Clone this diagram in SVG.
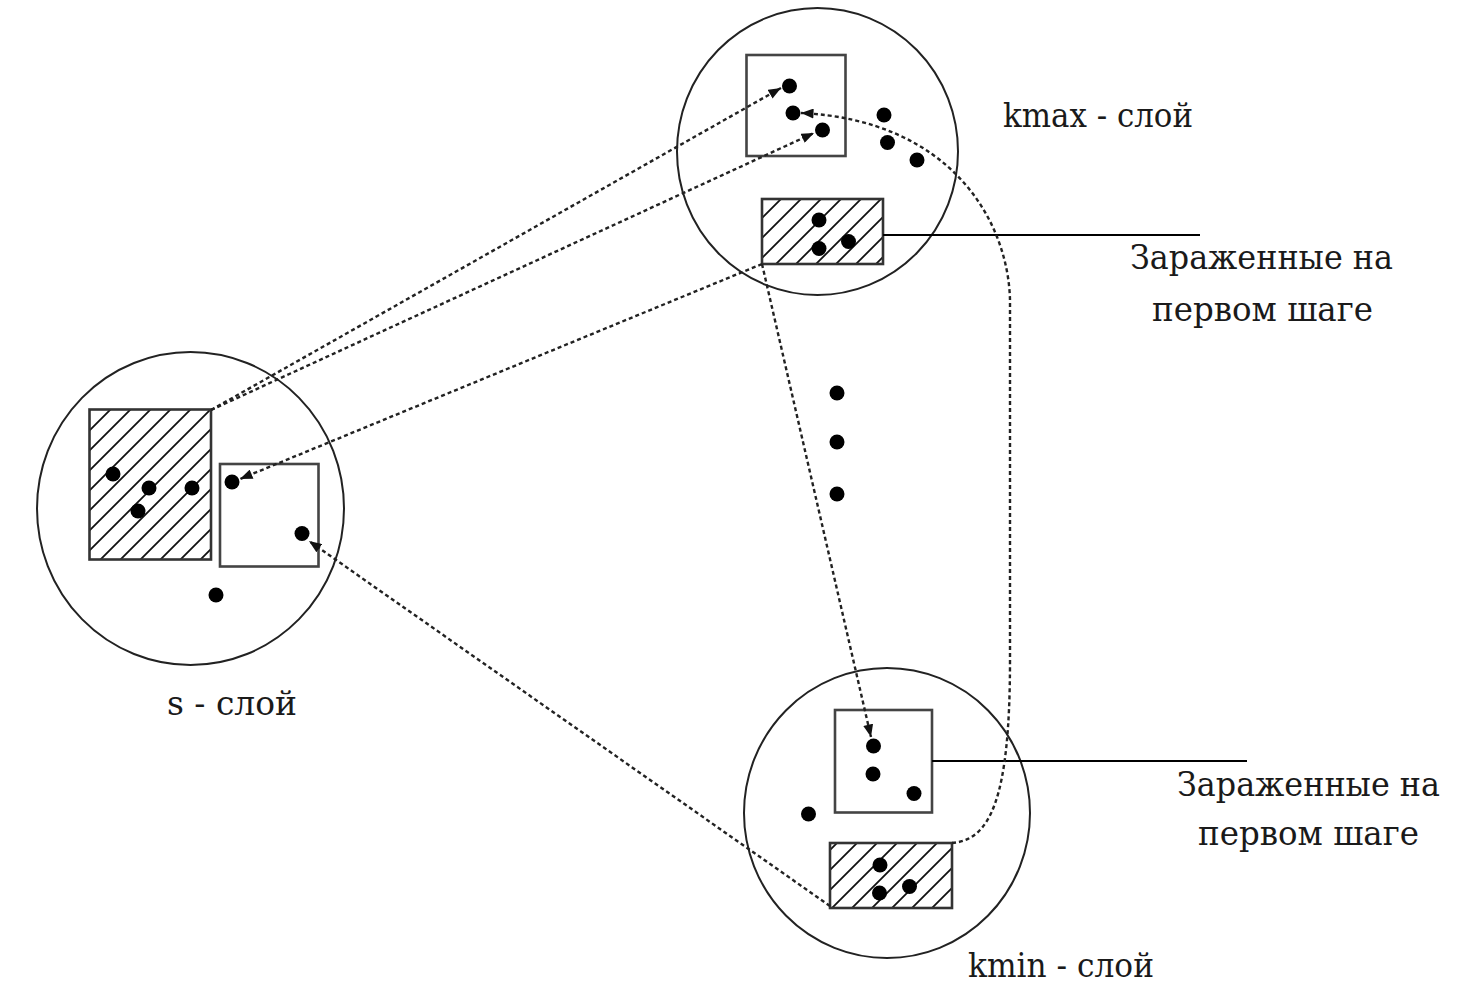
<svg xmlns="http://www.w3.org/2000/svg" width="1460" height="1000" viewBox="0 0 1460 1000">
<defs>
<pattern id="hatch" patternUnits="userSpaceOnUse" width="20" height="20">
<path d="M-5,5 L5,-5 M0,20 L20,0 M15,25 L25,15" stroke="#111" stroke-width="1.8"/>
</pattern>
<marker id="arr" viewBox="0 0 10 8" refX="10" refY="4" markerWidth="13" markerHeight="10" markerUnits="userSpaceOnUse" orient="auto">
<path d="M0,0 L10,4 L0,8 Z" fill="#111"/>
</marker>
<style>
.circ{fill:none;stroke:#222;stroke-width:2}
.box{fill:#fff;stroke:#444;stroke-width:2.6}
.hb{fill:url(#hatch);stroke:#333;stroke-width:2.6}
.dot{fill:#000}
.dash{fill:none;stroke:#222;stroke-width:2.4;stroke-dasharray:4 3}
.lead{stroke:#000;stroke-width:2}
.t{font-family:'DejaVu Serif','Liberation Serif',serif;font-size:33px;fill:#1a1a1a}
</style>
</defs>
<rect width="1460" height="1000" fill="#fff"/>

<g id="s-layer">
<ellipse class="circ" cx="190.5" cy="508.5" rx="153.5" ry="156.5"/>
<rect class="hb" x="89.5" y="409.5" width="121.5" height="150"/>
<rect class="box" x="220" y="464" width="98.5" height="102.5"/>
<circle class="dot" cx="113" cy="474" r="7.5"/>
<circle class="dot" cx="149" cy="488" r="7.5"/>
<circle class="dot" cx="192" cy="488" r="7.5"/>
<circle class="dot" cx="138" cy="511" r="7.5"/>
<circle class="dot" cx="232" cy="482" r="7.5"/>
<circle class="dot" cx="302" cy="533.5" r="7.5"/>
<circle class="dot" cx="216" cy="595" r="7.5"/>
<text class="t" x="167" y="715" textLength="130" lengthAdjust="spacingAndGlyphs">s - слой</text>
</g>

<g id="kmax-layer">
<ellipse class="circ" cx="817.5" cy="151.5" rx="140.5" ry="143.5"/>
<rect class="box" x="746.5" y="55" width="99" height="101"/>
<rect class="hb" x="762" y="199" width="121" height="65"/>
<circle class="dot" cx="789.5" cy="86" r="7.5"/>
<circle class="dot" cx="793" cy="113" r="7.5"/>
<circle class="dot" cx="822.5" cy="130" r="7.5"/>
<circle class="dot" cx="884" cy="115" r="7.5"/>
<circle class="dot" cx="887.5" cy="142.5" r="7.5"/>
<circle class="dot" cx="917" cy="160" r="7.5"/>
<circle class="dot" cx="819" cy="220" r="7.5"/>
<circle class="dot" cx="819" cy="248.5" r="7.5"/>
<circle class="dot" cx="848.5" cy="241.5" r="7.5"/>
<line class="lead" x1="883" y1="235" x2="1200" y2="235"/>
<text class="t" x="1003" y="127" textLength="190" lengthAdjust="spacingAndGlyphs">kmax - слой</text>
<text class="t" x="1130" y="269" textLength="263" lengthAdjust="spacingAndGlyphs">Зараженные на</text>
<text class="t" x="1152" y="321" textLength="221" lengthAdjust="spacingAndGlyphs">первом шаге</text>
</g>

<g id="ellipsis">
<circle class="dot" cx="837" cy="393" r="7.5"/>
<circle class="dot" cx="837" cy="442" r="7.5"/>
<circle class="dot" cx="837" cy="494" r="7.5"/>
</g>

<g id="kmin-layer">
<ellipse class="circ" cx="887" cy="813" rx="143" ry="145"/>
<rect class="box" x="835" y="710" width="97" height="102.5"/>
<rect class="hb" x="830" y="843" width="122" height="65"/>
<circle class="dot" cx="873.5" cy="746" r="7.5"/>
<circle class="dot" cx="873" cy="774" r="7.5"/>
<circle class="dot" cx="914" cy="793.5" r="7.5"/>
<circle class="dot" cx="808.5" cy="814" r="7.5"/>
<circle class="dot" cx="880" cy="865" r="7.5"/>
<circle class="dot" cx="879.5" cy="893" r="7.5"/>
<circle class="dot" cx="909.5" cy="886.5" r="7.5"/>
<line class="lead" x1="932" y1="761" x2="1247" y2="761"/>
<text class="t" x="968" y="977" textLength="186" lengthAdjust="spacingAndGlyphs">kmin - слой</text>
<text class="t" x="1177" y="796" textLength="263" lengthAdjust="spacingAndGlyphs">Зараженные на</text>
<text class="t" x="1198" y="845" textLength="221" lengthAdjust="spacingAndGlyphs">первом шаге</text>
</g>

<g id="connectors">
<path class="dash" d="M211,410 L781,88" marker-end="url(#arr)"/>
<path class="dash" d="M211,410 L814,133" marker-end="url(#arr)"/>
<path class="dash" d="M762,264 L240,479" marker-end="url(#arr)"/>
<path class="dash" d="M830,906 L309,541" marker-end="url(#arr)"/>
<path class="dash" d="M762,264 L871,737" marker-end="url(#arr)"/>
<path class="dash" d="M952,843 C990,840 1010,800 1010,660 L1010,300 C1008,220 950,120 801,113" marker-end="url(#arr)"/>
</g>
</svg>
